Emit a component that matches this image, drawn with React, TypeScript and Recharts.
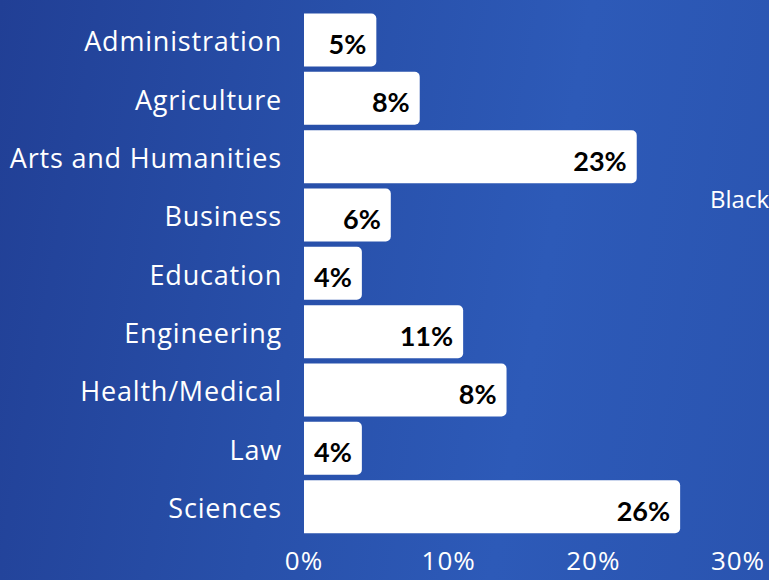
import React from 'react';
import { BarChart, Bar, XAxis, YAxis, LabelList } from 'recharts';

// Field of study shares
const categories = [
  'Administration',
  'Agriculture',
  'Arts and Humanities',
  'Business',
  'Education',
  'Engineering',
  'Health/Medical',
  'Law',
  'Sciences',
];
const shares = [5, 8, 23, 6, 4, 11, 14, 4, 26];
const shareLabels = ['5%', '8%', '23%', '6%', '4%', '11%', '8%', '4%', '26%'];
const xTicks = [0, 10, 20, 30];
const legendName = 'Black';

const data = categories.map((name, i) => ({
  name,
  value: shares[i],
  label: shareLabels[i],
}));

const CategoryTick = (props: any) => {
  const { x, y, payload } = props;
  return (
    <text
      x={x}
      y={y + 11}
      textAnchor="end"
      fill="#ffffff"
      fontSize={27}
      letterSpacing={0.8}
      fontFamily="'Open Sans', sans-serif"
    >
      {payload.value}
    </text>
  );
};

const ValueLabel = (props: any) => {
  const { x, y, width, height, value } = props;
  return (
    <text
      x={x + width - 10}
      y={y + height / 2 + 14}
      textAnchor="end"
      fill="#000000"
      fontSize={27}
      fontWeight={700}
      fontFamily="Lato, sans-serif"
    >
      {value}
    </text>
  );
};

const App: React.FC = () => {
  return (
    <div
      style={{
        position: 'absolute',
        left: 0,
        top: 0,
        width: 769,
        height: 580,
        overflow: 'hidden',
        background:
          'linear-gradient(100deg, #213f95 0%, #2850aa 40%, #2d5ab8 68%, #2a54b0 100%)',
      }}
    >
      <BarChart
        width={769}
        height={580}
        data={data}
        layout="vertical"
        margin={{ top: 11, right: 31, bottom: 0, left: 0 }}
        barCategoryGap={2.5}
      >
        <XAxis
          type="number"
          domain={[0, 30]}
          ticks={xTicks}
          tickFormatter={(v: number) => `${v}%`}
          axisLine={false}
          tickLine={false}
          tickSize={0}
          tickMargin={16}
          height={44}
          interval={0}
          tick={{
            fill: '#ffffff',
            fontSize: 26,
            letterSpacing: 1,
            fontFamily: "'Open Sans', sans-serif",
          }}
        />
        <YAxis
          type="category"
          dataKey="name"
          width={304}
          axisLine={false}
          tickLine={false}
          tickSize={0}
          tickMargin={22}
          interval={0}
          tick={<CategoryTick />}
        />
        <Bar dataKey="value" fill="#ffffff" radius={[0, 5, 5, 0]} isAnimationActive={false}>
          <LabelList dataKey="label" content={<ValueLabel />} />
        </Bar>
      </BarChart>
      <div
        style={{
          position: 'absolute',
          left: 710,
          top: 182,
          color: '#ffffff',
          fontSize: 24,
          fontFamily: "'Open Sans', sans-serif",
          whiteSpace: 'nowrap',
        }}
      >
        {legendName}
      </div>
    </div>
  );
};

export default App;
